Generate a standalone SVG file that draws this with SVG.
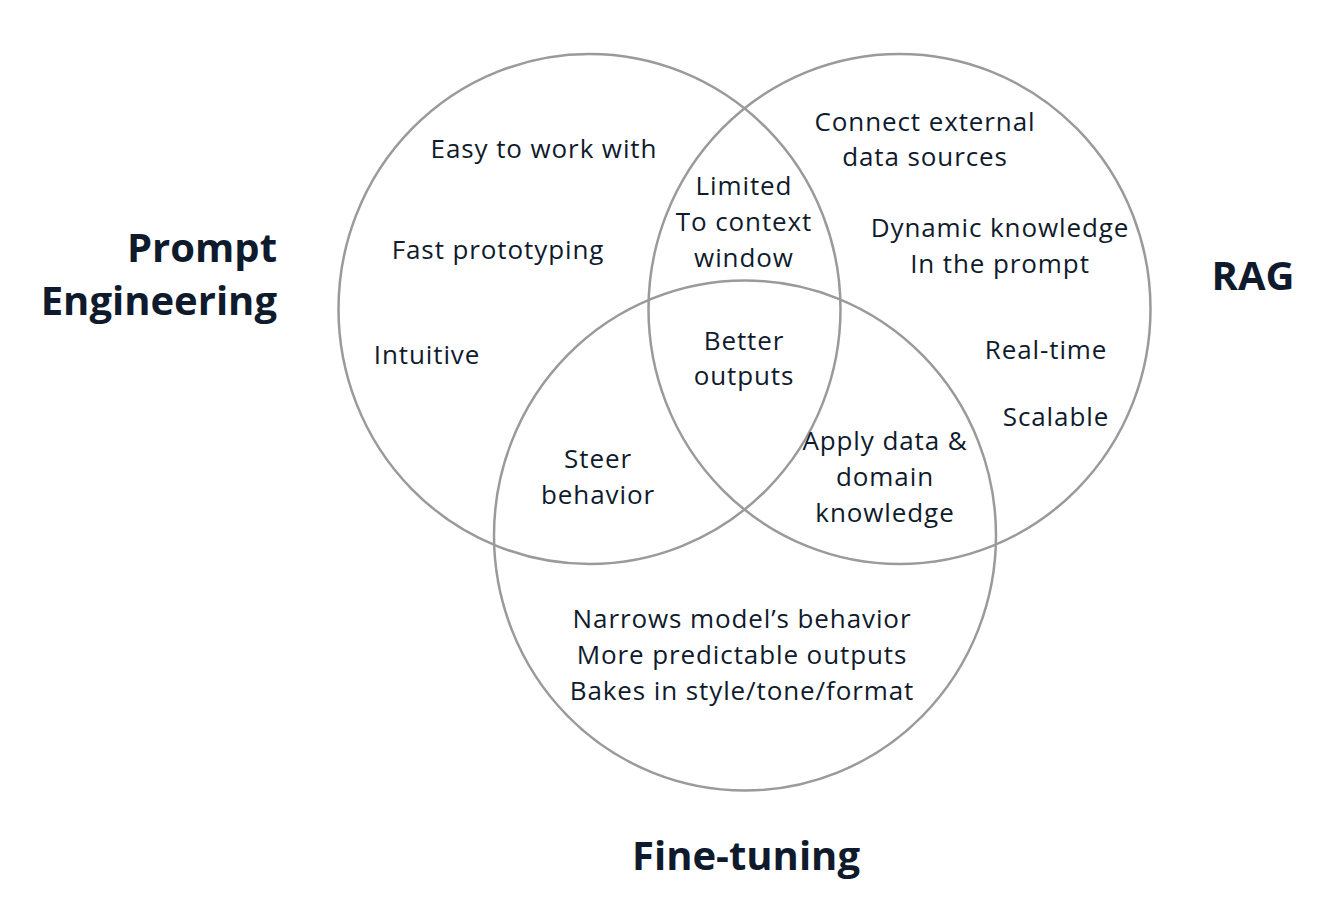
<svg xmlns="http://www.w3.org/2000/svg" width="1342" height="918" viewBox="0 0 1342 918">
<style>
.c{fill:none;stroke:#9a9a9a;stroke-width:2.5}
.t{font-family:"Open Sans","Noto Sans","Liberation Sans",sans-serif;font-size:26px;letter-spacing:0.9px;fill:#0f1b2d;text-anchor:middle}
.h{font-family:"Open Sans","Noto Sans","Liberation Sans",sans-serif;font-size:40px;font-weight:bold;fill:#0f1b2d}
</style>
<rect width="1342" height="918" fill="#ffffff"/>
<g id="connectors"></g>
<g id="prompt-engineering">
<ellipse class="c" cx="589.5" cy="309" rx="251" ry="255"/>
<text class="h" x="277" y="262" text-anchor="end">Prompt</text>
<text class="h" x="277" y="315" text-anchor="end">Engineering</text>
<text class="t" x="544" y="158">Easy to work with</text>
<text class="t" x="498" y="259">Fast prototyping</text>
<text class="t" x="427" y="364">Intuitive</text>
</g>
<g id="rag">
<ellipse class="c" cx="899.5" cy="309" rx="251" ry="255"/>
<text class="h" x="1253" y="290" text-anchor="middle">RAG</text>
<text class="t" x="925" y="131">Connect external</text>
<text class="t" x="925" y="166">data sources</text>
<text class="t" x="1000" y="237">Dynamic knowledge</text>
<text class="t" x="1000" y="273">In the prompt</text>
<text class="t" x="1046" y="359">Real-time</text>
<text class="t" x="1056" y="426">Scalable</text>
</g>
<g id="fine-tuning">
<ellipse class="c" cx="745" cy="535.5" rx="251" ry="255"/>
<text class="h" x="746" y="870" text-anchor="middle">Fine-tuning</text>
<text class="t" x="742" y="628">Narrows model’s behavior</text>
<text class="t" x="742" y="664">More predictable outputs</text>
<text class="t" x="742" y="700">Bakes in style/tone/format</text>
</g>
<g id="pe-rag">
<text class="t" x="744" y="195">Limited</text>
<text class="t" x="744" y="231">To context</text>
<text class="t" x="744" y="267">window</text>
</g>
<g id="all-three">
<text class="t" x="744" y="350">Better</text>
<text class="t" x="744" y="385">outputs</text>
</g>
<g id="pe-ft">
<text class="t" x="598" y="468">Steer</text>
<text class="t" x="598" y="504">behavior</text>
</g>
<g id="rag-ft">
<text class="t" x="885" y="450">Apply data &amp;</text>
<text class="t" x="885" y="486">domain</text>
<text class="t" x="885" y="522">knowledge</text>
</g>
</svg>
